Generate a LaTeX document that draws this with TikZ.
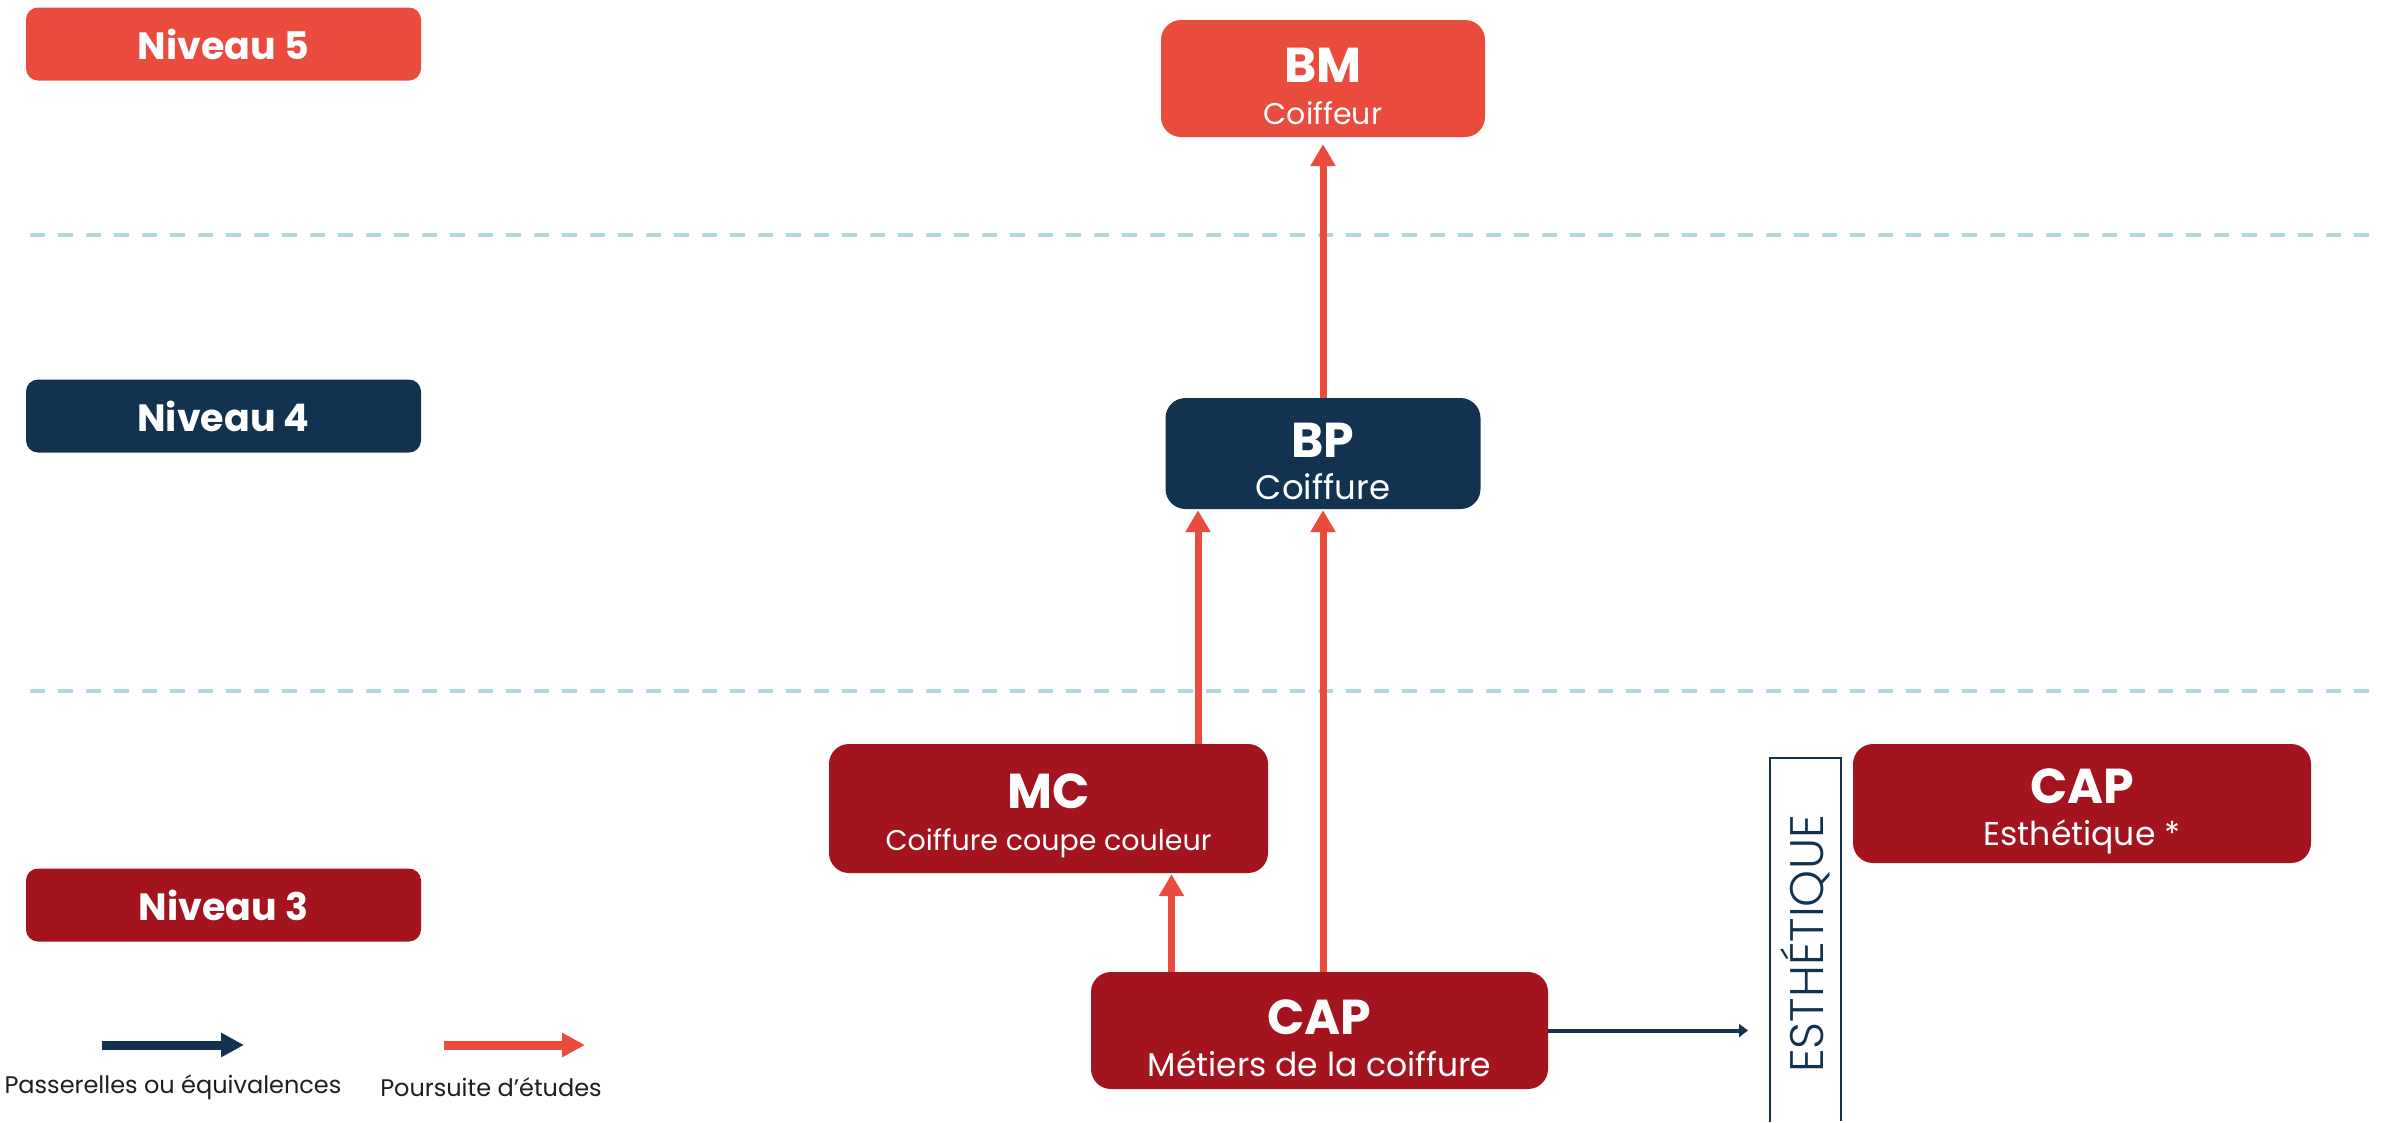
\documentclass[tikz,border=0pt]{standalone}
\usepackage{fontspec}
\setmainfont{Poppins}
\newfontfamily\fin{Poppins}[UprightFont=* Light]
\usetikzlibrary{arrows.meta,positioning}

\definecolor{rougeclair}{HTML}{E94B3C}
\definecolor{marine}{HTML}{12324F}
\definecolor{bordeaux}{HTML}{A3141F}
\definecolor{pointille}{HTML}{B3D6DC}
\definecolor{legende}{HTML}{1E1E1E}

\newcommand{\diplome}[3][30]{{\fontsize{49}{42}\selectfont\bfseries\rule{0pt}{50pt}#2}\\{\fontsize{#1}{42}\selectfont #3}}

\begin{document}
\begin{tikzpicture}[x=1pt,y=-1pt,shorten >=1pt]

        \tikzstyle{every node}=[inner sep=0pt]
        \tikzstyle{niveau}=[rounded corners=12pt, minimum width=395pt, minimum height=73pt, text=white, font=\fontsize{38}{40}\selectfont\bfseries]
        \tikzstyle{formation}=[rounded corners=20pt, text=white, align=center, font=\fontsize{30}{42}\selectfont]
        \tikzstyle{poursuite}=[->, >={Triangle[width=24pt,length=22pt]}, draw=rougeclair, line width=7pt]
        \tikzstyle{passerelle}=[->, >={Triangle[width=13pt,length=9pt]}, draw=marine, line width=4pt]
        \tikzstyle{separation}=[draw=pointille, line width=4.5pt, dash pattern=on 15pt off 13pt]

        \useasboundingbox (0,0) rectangle (2382,1122);

        % niveaux
        \node[niveau, fill=rougeclair] (niv5) at (223.5,44)  {Niveau 5};
        \node[niveau, fill=marine]     (niv4) at (223.5,416) {Niveau 4};
        \node[niveau, fill=bordeaux]   (niv3) at (223.5,905) {Niveau 3};

        \draw[separation] (30,235) -- (2382,235);
        \draw[separation] (30,691) -- (2382,691);

        % diplomes
        \node[formation, fill=rougeclair, minimum width=324pt, minimum height=117pt] (bm)      at (1323,78.5)    {\diplome{BM}{Coiffeur}};
        \node[formation, fill=marine,     minimum width=315pt, minimum height=111pt] (bp)      at (1323,453.5)   {\diplome[34]{BP}{Coiffure}};
        \node[formation, fill=bordeaux,   minimum width=439pt, minimum height=129pt] (mc)      at (1048.5,808.5) {\diplome[28.5]{MC}{Coiffure coupe couleur}};
        \node[formation, fill=bordeaux,   minimum width=457pt, minimum height=117pt] (cap)     at (1319.5,1030.5){\diplome[33]{CAP}{Métiers de la coiffure}};
        \node[formation, fill=bordeaux,   minimum width=458pt, minimum height=119pt] (capesth) at (2082,803.5)   {\diplome[33]{CAP}{Esthétique *}};

        \node[rotate=90, text=marine, font=\fontsize{47}{47}\selectfont\fin] (esth) at (1805.5,944) {ESTHÉTIQUE};
        \draw[marine, line width=2pt] (1770,1122) |- (1841,758) -- (1841,1122);

        \coordinate (bpg) at ([xshift=-125]bp.south);
        \coordinate (mcd) at ([xshift=123]mc.south);
        \coordinate (filiere) at (1749,1030.5);

        \path
        (bp)                 edge[poursuite, shorten >=7pt] (bm)
        (bp.south |- cap.north) edge[poursuite]             (bp.south)
        (bpg |- mc.north)    edge[poursuite]                (bpg)
        (mcd |- cap.north)   edge[poursuite]                (mcd)
        (cap.east)           edge[passerelle]               (filiere)
    ;

        % legende
        \coordinate (pa) at (102,1045);
        \coordinate (pb) at (245,1045);
        \coordinate (pc) at (444,1045);
        \coordinate (pd) at (586,1045);
        \draw[passerelle, line width=9pt, >={Triangle[width=23pt,length=23pt]}] (pa) -- (pb);
        \draw[poursuite,  line width=9pt, >={Triangle[width=23pt,length=23pt]}] (pc) -- (pd);

        \node[text=legende, font=\fontsize{24}{26}\selectfont] (leg1) at (173,1087) {Passerelles ou équivalences};
        \node[text=legende, font=\fontsize{24}{26}\selectfont] (leg2) at (491,1087) {Poursuite d’études};

\end{tikzpicture}
\end{document}
